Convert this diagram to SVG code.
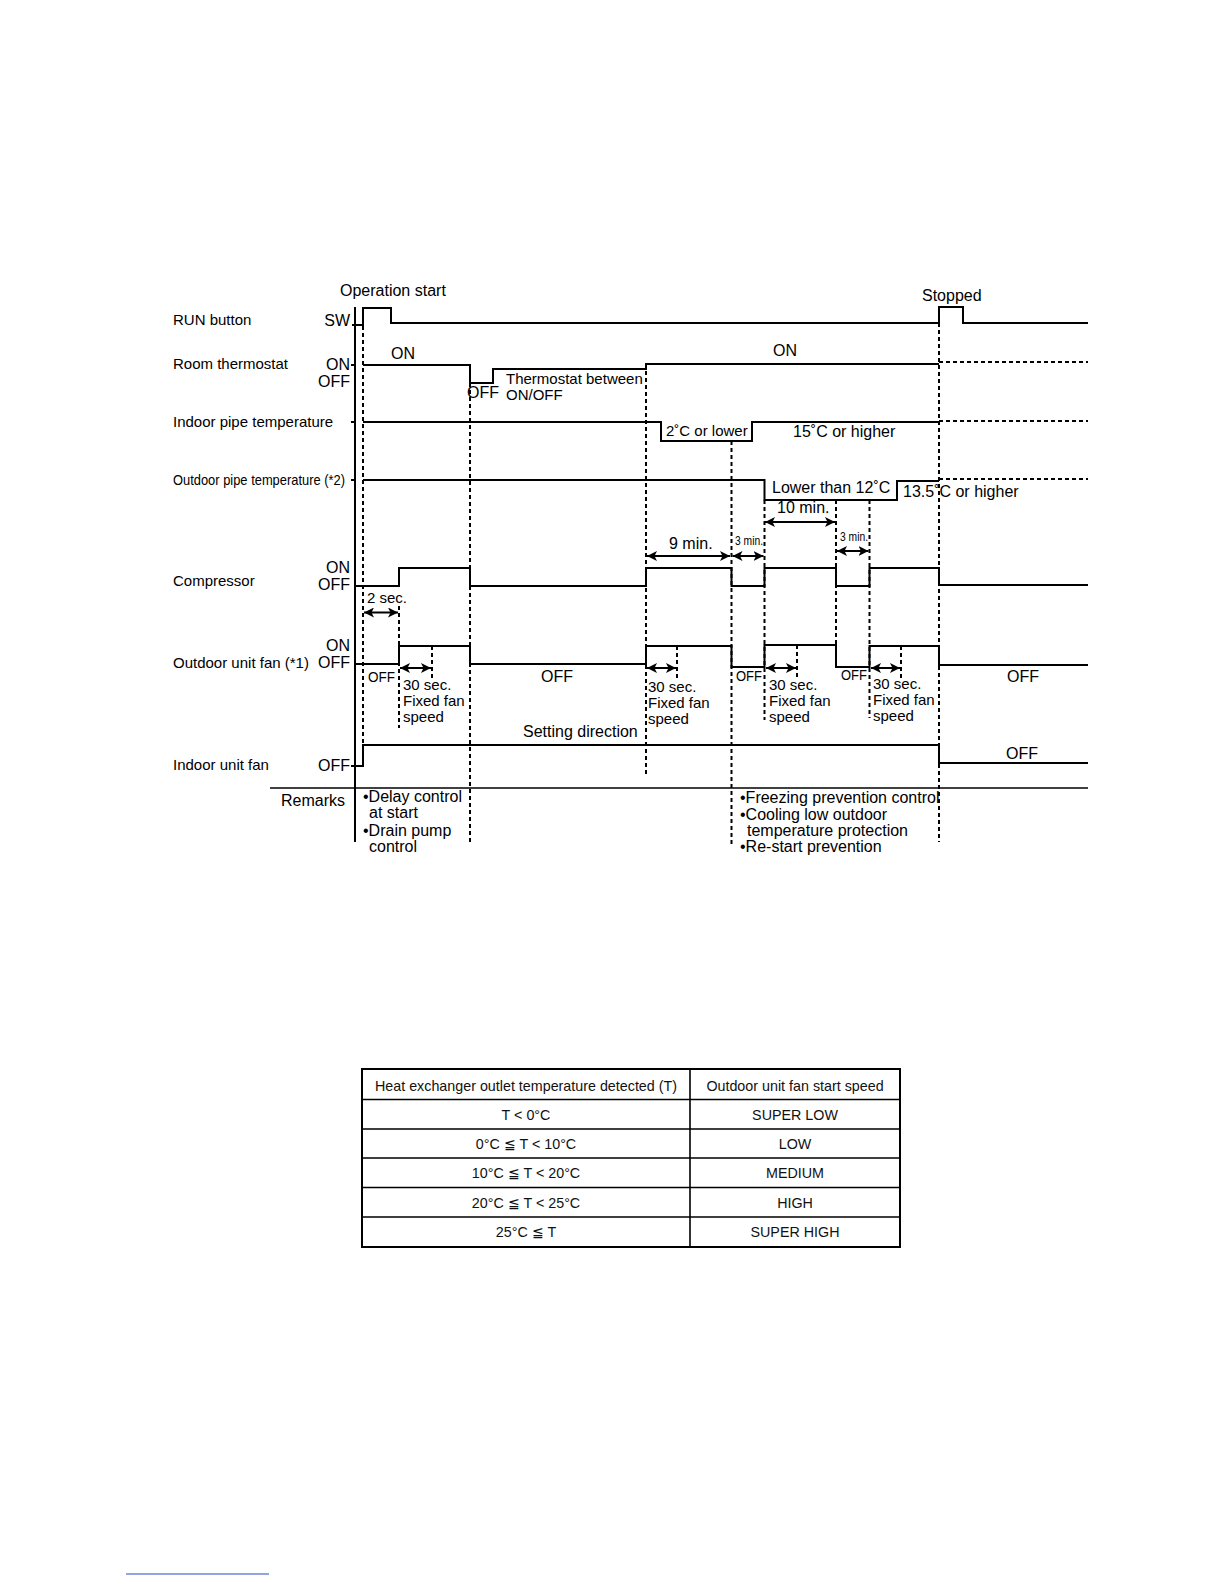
<svg xmlns="http://www.w3.org/2000/svg" width="1224" height="1584" viewBox="0 0 1224 1584">
<style>
.sig{fill:none;stroke:#000;stroke-width:2}
.dash{fill:none;stroke:#000;stroke-width:2;stroke-dasharray:4 3}
.arr{fill:none;stroke:#000;stroke-width:2;marker-start:url(#ah);marker-end:url(#ah)}
text{font-family:"Liberation Sans",Arial,Helvetica,sans-serif;fill:#000}
.l15{font-size:15px}
.l16{font-size:16px}
.r{text-anchor:end}
.tb{font-size:14.3px;text-anchor:middle;fill:#111}
.grid{fill:none;stroke:#000;stroke-width:1.6}
</style>
<defs>
<marker id="ah" viewBox="0 0 10 10" refX="10" refY="5" markerWidth="10" markerHeight="10" markerUnits="userSpaceOnUse" orient="auto-start-reverse">
<path d="M0,0 L10,5 L0,10 L2.5,5 z" fill="#000"/>
</marker>
</defs>
<rect width="1224" height="1584" fill="#fff"/>

<g id="connectors">
<path class="dash" d="M363,326 V745"/>
<path class="dash" d="M399,606 V728"/>
<path class="dash" d="M432,646 V680"/>
<path class="dash" d="M470,383 V843"/>
<path class="dash" d="M646,364 V777"/>
<path class="dash" d="M677,646 V680"/>
<path class="dash" d="M731.5,441 V845"/>
<path class="dash" d="M764.5,500 V720"/>
<path class="dash" d="M797,645 V680"/>
<path class="dash" d="M836,500 V645"/>
<path class="dash" d="M869.5,500 V718"/>
<path class="dash" d="M901,646 V680"/>
<path class="dash" d="M939,323 V842"/>
<path class="arr" d="M364,612.5 H398"/>
<path class="arr" d="M647,556 H730"/>
<path class="arr" d="M732.5,556 H763.5"/>
<path class="arr" d="M765,522 H835"/>
<path class="arr" d="M837,551 H868.5"/>
<path class="arr" d="M400,668 H431"/>
<path class="arr" d="M647,668 H676"/>
<path class="arr" d="M766,668 H796"/>
<path class="arr" d="M871,668 H900"/>
</g>

<g id="axis">
<path class="sig" d="M355,307 V842"/>
<path class="sig" d="M270,788 H1088" style="stroke-width:1.6"/>
<path class="sig" d="M351,365 H355 M351,422 H355 M351,480 H355"/>
</g>

<g id="run-button">
<text class="l16" x="340" y="296">Operation start</text>
<text class="l16" x="922" y="301">Stopped</text>
<text class="l15" x="173" y="325">RUN button</text>
<text class="l16 r" x="350" y="326">SW</text>
<path class="sig" d="M352,325 H363 V308 H391 V323 H939 V307 H963 V323 H1088"/>
</g>

<g id="room-thermostat">
<text class="l15" x="173" y="369">Room thermostat</text>
<text class="l16 r" x="350" y="370">ON</text>
<text class="l16 r" x="350" y="387">OFF</text>
<text class="l16" x="391" y="359">ON</text>
<text class="l16" x="467" y="398">OFF</text>
<text class="l15" x="506" y="384">Thermostat between</text>
<text class="l15" x="506" y="400">ON/OFF</text>
<text class="l16" x="773" y="356">ON</text>
<path class="sig" d="M363,365 H470 V383 H493 V369 H646 V364 H939"/>
<path class="dash" d="M939,362 H1088"/>
</g>

<g id="indoor-pipe">
<text class="l15" x="173" y="427">Indoor pipe temperature</text>
<text class="l15" x="666" y="436">2˚C or lower</text>
<text class="l16" x="793" y="437">15˚C or higher</text>
<path class="sig" d="M363,422 H661 V441 H752 V422 H939"/>
<path class="dash" d="M939,421 H1088"/>
</g>

<g id="outdoor-pipe">
<text class="l15" x="173" y="485" textLength="172" lengthAdjust="spacingAndGlyphs">Outdoor pipe temperature (*2)</text>
<text class="l16" x="772" y="493">Lower than 12˚C</text>
<text class="l16" x="903" y="497">13.5˚C or higher</text>
<path class="sig" d="M363,480 H764.5 V500 H897 V481 H939"/>
<path class="dash" d="M939,479 H1088"/>
</g>

<g id="timers">
<text class="l16" x="777" y="513">10 min.</text>
<text x="840" y="541" style="font-size:13px" textLength="28" lengthAdjust="spacingAndGlyphs">3 min.</text>
<text class="l16" x="669" y="549">9 min.</text>
<text x="735" y="545" style="font-size:13px" textLength="28" lengthAdjust="spacingAndGlyphs">3 min.</text>
<text class="l15" x="367" y="603">2 sec.</text>
</g>

<g id="compressor">
<text class="l15" x="173" y="586">Compressor</text>
<text class="l16 r" x="350" y="573">ON</text>
<text class="l16 r" x="350" y="590">OFF</text>
<path class="sig" d="M355,586 H399 V568 H470 V586 H646 V568 H731.5 V586 H764.5 V568 H836 V586 H869.5 V568 H939 V585 H1088"/>
</g>

<g id="outdoor-fan">
<text class="l16 r" x="350" y="651">ON</text>
<text class="l15" x="173" y="668">Outdoor unit fan (*1)</text>
<text class="l16 r" x="350" y="668">OFF</text>
<path class="sig" d="M355,664 H399 V646 H470 V664 H646 V646 H731.5 V667 H764.5 V645 H836 V667 H869.5 V646 H939 V665 H1088"/>
<text x="368" y="682" style="font-size:15px" textLength="27" lengthAdjust="spacingAndGlyphs">OFF</text>
<text class="l15" x="403" y="690">30 sec.</text>
<text class="l15" x="403" y="706">Fixed fan</text>
<text class="l15" x="403" y="722">speed</text>
<text class="l16" x="541" y="682">OFF</text>
<text class="l15" x="648" y="692">30 sec.</text>
<text class="l15" x="648" y="708">Fixed fan</text>
<text class="l15" x="648" y="724">speed</text>
<text class="l16" x="523" y="737">Setting direction</text>
<text x="736" y="681" style="font-size:15px" textLength="26" lengthAdjust="spacingAndGlyphs">OFF</text>
<text class="l15" x="769" y="690">30 sec.</text>
<text class="l15" x="769" y="706">Fixed fan</text>
<text class="l15" x="769" y="722">speed</text>
<text x="841" y="680" style="font-size:15px" textLength="26" lengthAdjust="spacingAndGlyphs">OFF</text>
<text class="l15" x="873" y="689">30 sec.</text>
<text class="l15" x="873" y="705">Fixed fan</text>
<text class="l15" x="873" y="721">speed</text>
<text class="l16" x="1007" y="682">OFF</text>
</g>

<g id="indoor-fan">
<text class="l15" x="173" y="770">Indoor unit fan</text>
<text class="l16 r" x="350" y="771">OFF</text>
<text class="l16" x="1006" y="759">OFF</text>
<path class="sig" d="M351,766 H363 V745 H939 V763 H1088"/>
</g>

<g id="remarks">
<text class="l16" x="281" y="806">Remarks</text>
<text class="l16" x="363" y="802">•Delay control</text>
<text class="l16" x="369" y="818">at start</text>
<text class="l16" x="363" y="836">•Drain pump</text>
<text class="l16" x="369" y="852">control</text>
<text class="l16" x="740" y="803">•Freezing prevention control</text>
<text class="l16" x="740" y="820">•Cooling low outdoor</text>
<text class="l16" x="747" y="836">temperature protection</text>
<text class="l16" x="740" y="852">•Re-start prevention</text>
</g>

<g id="table">
<rect class="grid" x="362" y="1069" width="538" height="178" style="stroke-width:2"/>
<path class="grid" d="M690,1069 V1247 M362,1099.5 H900 M362,1129 H900 M362,1158 H900 M362,1187.5 H900 M362,1217 H900"/>
<text class="tb" x="526" y="1091">Heat exchanger outlet temperature detected (T)</text>
<text class="tb" x="795" y="1091">Outdoor unit fan start speed</text>
<text class="tb" x="526" y="1120">T &lt; 0°C</text>
<text class="tb" x="795" y="1120">SUPER LOW</text>
<text class="tb" x="526" y="1149">0°C ≦ T &lt; 10°C</text>
<text class="tb" x="795" y="1149">LOW</text>
<text class="tb" x="526" y="1178">10°C ≦ T &lt; 20°C</text>
<text class="tb" x="795" y="1178">MEDIUM</text>
<text class="tb" x="526" y="1208">20°C ≦ T &lt; 25°C</text>
<text class="tb" x="795" y="1208">HIGH</text>
<text class="tb" x="526" y="1237">25°C ≦ T</text>
<text class="tb" x="795" y="1237">SUPER HIGH</text>
</g>

<path d="M126,1574 H269" stroke="#2a48c8" stroke-width="1.2"/>
</svg>
